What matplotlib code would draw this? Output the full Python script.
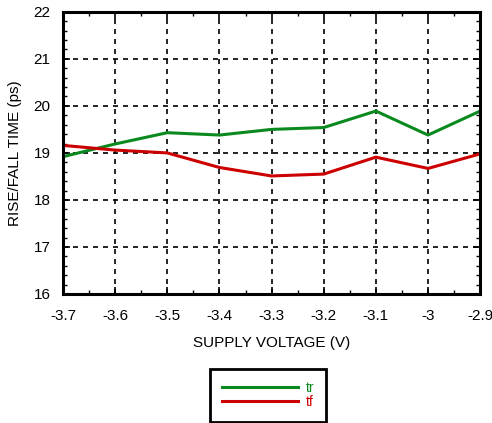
import numpy as np
import matplotlib
matplotlib.use("Agg")
import matplotlib.pyplot as plt
from matplotlib.ticker import MultipleLocator

plt.rcParams['font.family'] = ['Liberation Sans', 'DejaVu Sans']

voltage = [-3.7, -3.6, -3.5, -3.4, -3.3, -3.2, -3.1, -3.0, -2.9]
tr = [18.92, 19.19, 19.43, 19.38, 19.50, 19.54, 19.89, 19.38, 19.89]
tf = [19.16, 19.06, 19.00, 18.69, 18.51, 18.55, 18.91, 18.67, 18.98]
xticklabels = ["-3.7", "-3.6", "-3.5", "-3.4", "-3.3", "-3.2", "-3.1", "-3", "-2.9"]

green = "#0a8a1e"
red = "#cc0000"

fig = plt.figure(figsize=(4.92, 4.23), dpi=100)
ax = fig.add_axes([0.128, 0.305, 0.848, 0.667])

ax.plot(voltage, tr, color=green, lw=2.2, label="tr")
ax.plot(voltage, tf, color=red, lw=2.2, label="tf")

ax.set_xlim(-3.7, -2.9)
ax.set_ylim(16, 22)
ax.set_xticks(voltage)
ax.set_xticklabels(xticklabels)
ax.xaxis.set_minor_locator(MultipleLocator(0.05))
ax.yaxis.set_major_locator(MultipleLocator(1))
ax.yaxis.set_minor_locator(MultipleLocator(0.2))
ax.tick_params(which='both', direction='in', top=True, right=True, labelsize=11)
ax.tick_params(axis='x', pad=11)
ax.tick_params(axis='y', pad=9)
ax.tick_params(which='major', length=5, width=1.2)
ax.tick_params(which='minor', length=3, width=1.0)
ax.grid(True, which='major', color='black', linestyle=(0, (3, 3)), lw=1.2)
for s in ax.spines.values():
    s.set_linewidth(2.2)

ax.set_xlabel("SUPPLY VOLTAGE (V)", fontsize=11, labelpad=9)
ax.set_ylabel("RISE/FALL TIME (ps)", fontsize=11, labelpad=8)

leg = fig.legend(loc='center', bbox_to_anchor=(268 / 492, 1 - 395 / 423),
                 fontsize=10, labelcolor='linecolor', handlelength=5.5,
                 handletextpad=0.5, labelspacing=0.0, borderpad=0.9,
                 borderaxespad=0, fancybox=False, edgecolor='black',
                 framealpha=1)
leg.get_frame().set_linewidth(2.0)

fig.savefig("out.png", dpi=100)
